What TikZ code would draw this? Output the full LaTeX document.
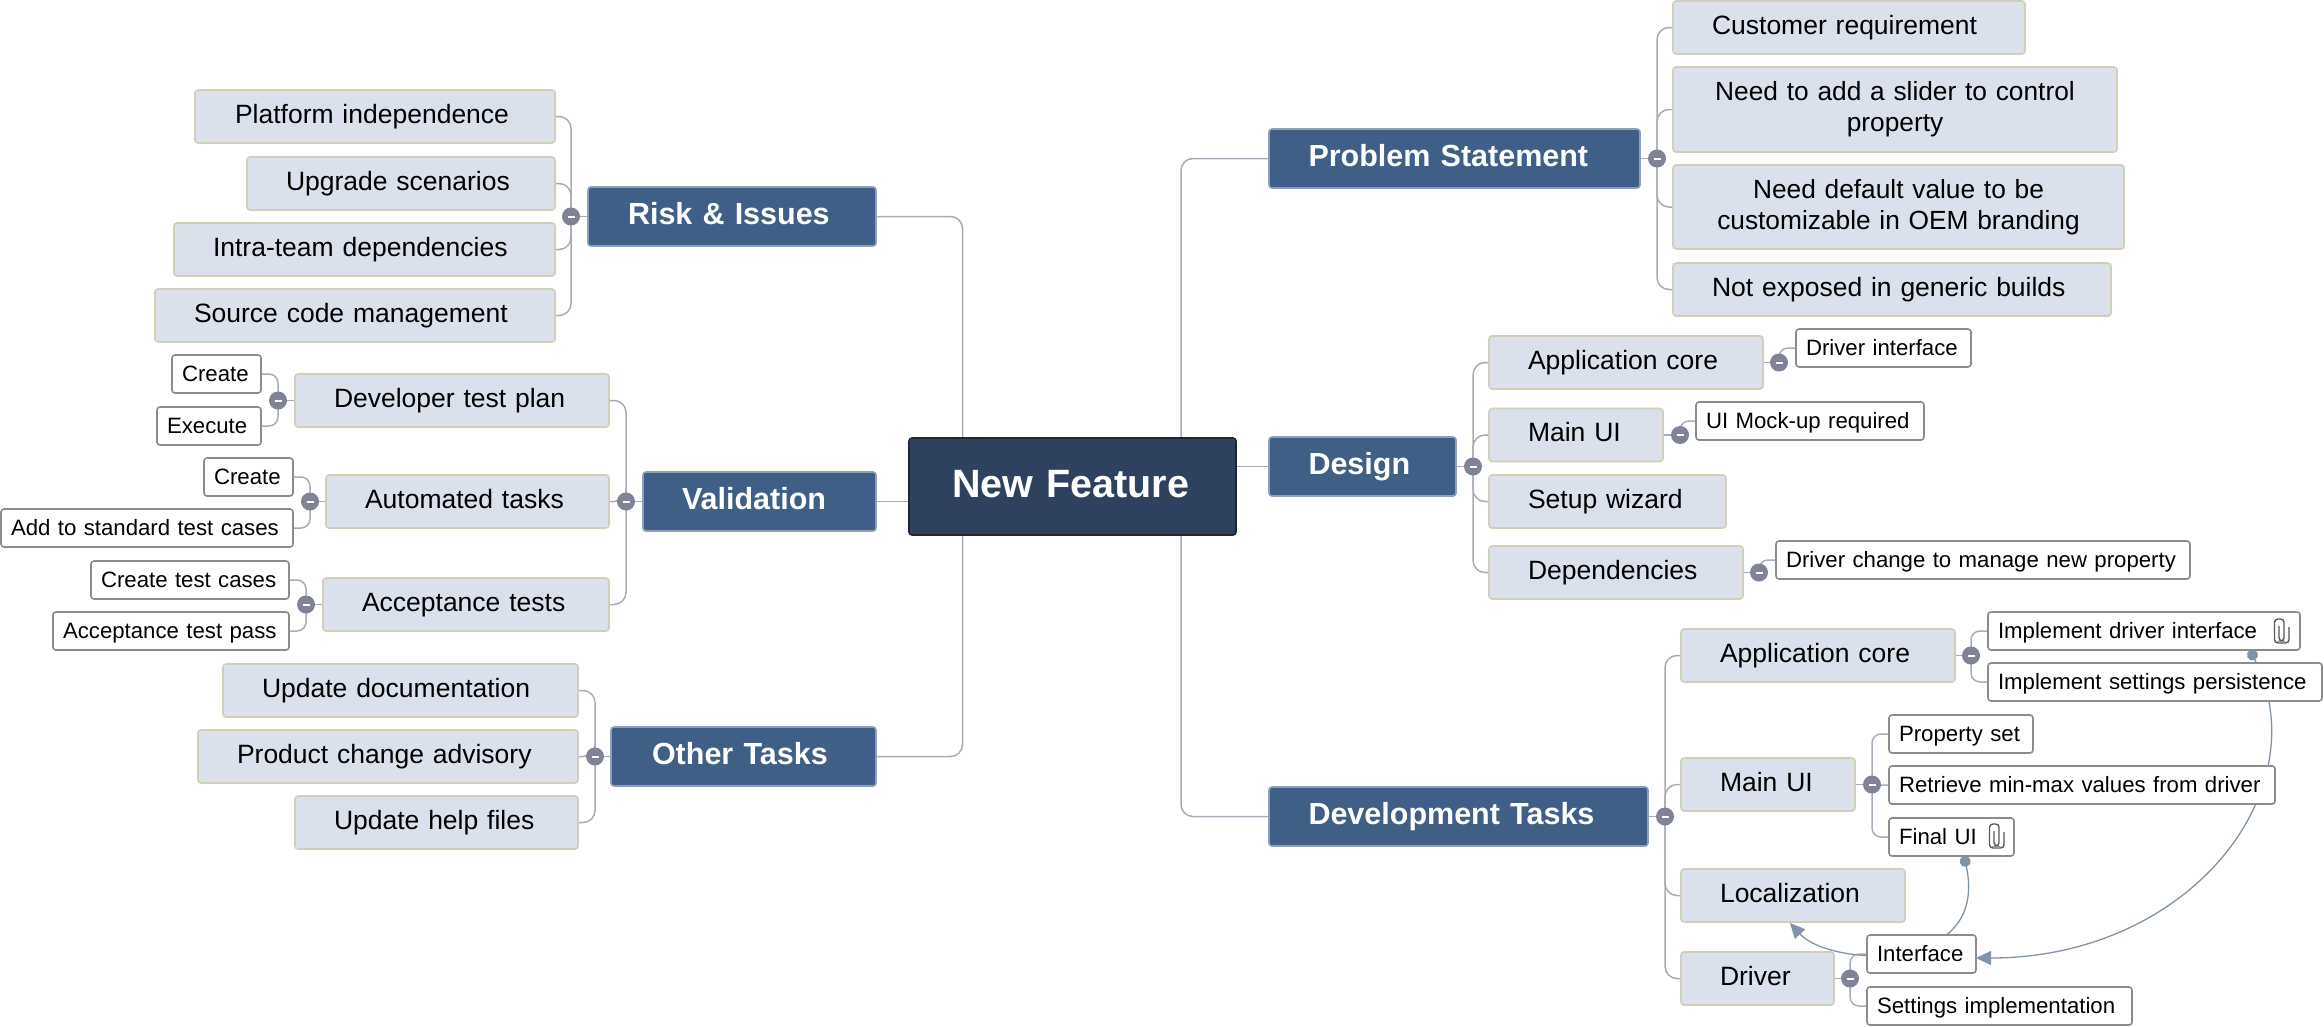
\documentclass[tikz,border=0pt]{standalone}
\usepackage{fontspec}
\setmainfont{Liberation Sans}
\usetikzlibrary{backgrounds,arrows.meta}
\definecolor{subfill}{HTML}{DAE1EC}
\definecolor{subedge}{HTML}{D2CFB9}
\definecolor{headfill}{HTML}{3F5F87}
\definecolor{headedge}{HTML}{8FA0B8}
\definecolor{rootfill}{HTML}{2E4260}
\definecolor{rootedge}{HTML}{23262C}
\definecolor{noteedge}{HTML}{8C8C8C}
\definecolor{connc}{HTML}{A6ADB8}
\definecolor{knob}{HTML}{7F8395}
\definecolor{relc}{HTML}{8193A6}
\tikzset{
  boxbase/.style={anchor=north west,inner sep=0pt,outer sep=0pt,rounded corners=3pt,line width=1.6pt},
  rootbox/.style={boxbase,fill=rootfill,draw=rootedge,text=white,text height=59pt,text depth=38pt,
    font=\bfseries\fontsize{39.5}{45}\selectfont},
  headbox/.style={boxbase,fill=headfill,draw=headedge,text=white,text height=37pt,text depth=22pt,
    font=\bfseries\fontsize{30.5}{36}\selectfont},
  subbox/.style={boxbase,fill=subfill,draw=subedge,text height=33pt,text depth=20pt,
    font=\fontsize{26.5}{31}\selectfont},
  twoline/.style={boxbase,fill=subfill,draw=subedge,align=center,text height=33pt,text depth=52pt,
    font=\fontsize{26.3}{31}\selectfont},
  notebox/.style={boxbase,fill=white,draw=noteedge,text height=26pt,text depth=12pt,
    font=\fontsize{22.2}{26}\selectfont},
  knobnode/.style={circle,fill=knob,inner sep=0pt,minimum size=18pt,text=white},
  conn/.style={draw=connc,line width=1.5pt},
  elbow/.style={conn,rounded corners=12pt},
  noteelbow/.style={conn,rounded corners=9pt},
  mainelbow/.style={conn,rounded corners=12pt},
  relation/.style={draw=relc,line width=1.3pt,
    {Circle[length=11pt,fill=relc]}-{Triangle[length=15pt,width=14pt,fill=relc]}},
  clipline/.style={draw=black!65,line width=1.4pt,rounded corners=3.4pt,fill=none},
}
\newcommand{\bx}[7]{% name, style, x0, y0, x1, pad, text
  \pgfmathsetmacro{\bxw}{#5-#3}%
  \node[#2,text width=\bxw pt] (#1) at (#3,#4) {\hspace*{#6pt}#7\hfill\null};}
\newcommand{\knobat}[3]{\node[knobnode] (#1) at (#2,#3) {\rule{7pt}{2pt}};}
\newcommand{\clipat}[2]{%
  \draw[clipline] ([shift={(-2pt,5pt)}]#1,#2) -- ++(0,15) -- ++(5,0) -- ++(0,-22) -- ++(-9.5,0) -- ++(0,24) -- ++(14.5,0) -- ++(0,-16);}
\begin{document}
\begin{tikzpicture}[x=1pt,y=-1pt]
\useasboundingbox (0,0) rectangle (2324,1026);
% root and main topics
\bx{root}{rootbox}{909}{438}{1236}{43}{New Feature}
\bx{ps}{headbox}{1269}{129}{1640}{39.5}{Problem Statement}
\bx{design}{headbox}{1269}{437}{1456}{39.5}{Design}
\bx{devt}{headbox}{1269}{787}{1648}{39.5}{Development Tasks}
\bx{risk}{headbox}{588}{187}{876}{40}{Risk \& Issues}
\bx{valid}{headbox}{643}{472}{876}{39}{Validation}
\bx{other}{headbox}{611}{727}{876}{41}{Other Tasks}
% problem statement
\bx{pa}{subbox}{1673}{1}{2025}{39}{Customer requirement}
\node[twoline,text width=444pt] (pb) at (1673,67) {Need to add a slider to control\\property};
\node[twoline,text width=451pt,text depth=51pt] (pc) at (1673,165) {Need default value to be\\customizable in OEM branding};
\bx{pd}{subbox}{1673}{263}{2111}{39}{Not exposed in generic builds}
% design
\bx{da}{subbox}{1489}{336}{1763}{39}{Application core}
\bx{db}{subbox}{1489}{408.5}{1663}{39}{Main UI}
\bx{dc}{subbox}{1489}{475}{1726}{39}{Setup wizard}
\bx{dd}{subbox}{1489}{546}{1743}{39}{Dependencies}
\bx{na}{notebox}{1796}{329}{1971}{10}{Driver interface}
\bx{nb}{notebox}{1696}{402}{1924}{10}{UI Mock-up required}
\bx{nc}{notebox}{1776}{541}{2190}{10}{Driver change to manage new property}
% development tasks
\bx{ta}{subbox}{1681}{629}{1955}{39}{Application core}
\bx{tb}{subbox}{1681}{758}{1855}{39}{Main UI}
\bx{tc}{subbox}{1681}{869}{1905}{39}{Localization}
\bx{td}{subbox}{1681}{952}{1834}{39}{Driver}
\bx{ia}{notebox}{1988}{612}{2300}{10}{Implement driver interface}
\bx{ib}{notebox}{1988}{663}{2322}{10}{Implement settings persistence}
\bx{ic}{notebox}{1889}{715}{2033}{10}{Property set}
\bx{id}{notebox}{1889}{766}{2275}{10}{Retrieve min-max values from driver}
\bx{ie}{notebox}{1889}{818}{2014}{10}{Final UI}
\bx{ig}{notebox}{1867}{935}{1976}{10}{Interface}
\bx{ih}{notebox}{1867}{987}{2132}{10}{Settings implementation}
% risk
\bx{ra}{subbox}{195}{90}{555}{40}{Platform independence}
\bx{rb}{subbox}{247}{157}{555}{39}{Upgrade scenarios}
\bx{rc}{subbox}{174}{223}{555}{39}{Intra-team dependencies}
\bx{rd}{subbox}{155}{289}{555}{39}{Source code management}
% validation
\bx{va}{subbox}{295}{374}{609}{39}{Developer test plan}
\bx{vb}{subbox}{326}{475}{609}{39}{Automated tasks}
\bx{vc}{subbox}{323}{578}{609}{39}{Acceptance tests}
\bx{la}{notebox}{172}{355}{261}{10}{Create}
\bx{lb}{notebox}{157}{407}{261}{10}{Execute}
\bx{lc}{notebox}{204}{458}{293}{10}{Create}
\bx{ld}{notebox}{1}{509}{293}{10}{Add to standard test cases}
\bx{le}{notebox}{91}{561}{289}{10}{Create test cases}
\bx{lf}{notebox}{53}{612}{289}{10}{Acceptance test pass}
% other tasks
\bx{oa}{subbox}{223}{664}{578}{39}{Update documentation}
\bx{ob}{subbox}{198}{730}{578}{39}{Product change advisory}
\bx{oc}{subbox}{295}{796}{578}{39}{Update help files}
% collapse knobs
\knobat{kps}{1657}{158.5}
\knobat{kde}{1473}{466.5}
\knobat{kdv}{1665}{816.5}
\knobat{kri}{571}{216.5}
\knobat{kva}{626}{501.5}
\knobat{kot}{595}{756.5}
\knobat{kda}{1779}{362.5}
\knobat{kdb}{1680}{435}
\knobat{kdd}{1759}{572.5}
\knobat{kta}{1971}{655.5}
\knobat{ktb}{1872}{784.5}
\knobat{ktd}{1850}{978.5}
\knobat{kla}{278}{400.5}
\knobat{klb}{310}{501.5}
\knobat{klc}{306}{604.5}
% paper clips
\clipat{2281}{631}
\clipat{1996}{836}
% trunk guides
\coordinate (trR) at (1181,480);
\coordinate (trL) at (962.5,480);
\begin{scope}[on background layer]
% main connectors
\draw[mainelbow] (trR |- root.north) -- (trR |- ps.west) -- (ps.west);
\draw[mainelbow] (trR |- root.south) -- (trR |- devt.west) -- (devt.west);
\draw[conn] (root.east |- design.west) -- (design.west);
\draw[mainelbow] (trL |- root.north) -- (trL |- risk.east) -- (risk.east);
\draw[mainelbow] (trL |- root.south) -- (trL |- other.east) -- (other.east);
\draw[conn] (root.west |- valid.east) -- (valid.east);
% parent to knob
\foreach \p/\k in {ps/kps,design/kde,devt/kdv,da/kda,db/kdb,dd/kdd,ta/kta,tb/ktb,td/ktd}
  \draw[conn] (\p.east) -- (\p.east -| \k);
\foreach \p/\k in {risk/kri,valid/kva,other/kot,va/kla,vb/klb,vc/klc}
  \draw[conn] (\p.west) -- (\p.west -| \k);
% knob to children, right side
\foreach \k/\c in {kps/pa,kps/pb,kps/pc,kps/pd,kde/da,kde/db,kde/dc,kde/dd,kdv/ta,kdv/tb,kdv/tc,kdv/td}
  \draw[elbow] (\k.center) -- (\k.center |- \c.west) -- (\c.west);
\foreach \k/\c in {kda/na,kdb/nb,kdd/nc,kta/ia,kta/ib,ktb/ic,ktb/id,ktb/ie,ktd/ig,ktd/ih}
  \draw[noteelbow] (\k.center) -- (\k.center |- \c.west) -- (\c.west);
% knob to children, left side
\foreach \k/\c in {kri/ra,kri/rb,kri/rc,kri/rd,kva/va,kva/vb,kva/vc,kot/oa,kot/ob,kot/oc}
  \draw[elbow] (\k.center) -- (\k.center |- \c.east) -- (\c.east);
\foreach \k/\c in {kla/la,kla/lb,klb/lc,klb/ld,klc/le,klc/lf}
  \draw[noteelbow] (\k.center) -- (\k.center |- \c.east) -- (\c.east);
% relationships
\draw[relation] ([xshift=106pt]ia.south) .. controls +(70,140) and +(214,0) .. ([yshift=-4pt]ig.east);
\draw[relation] ([xshift=12.5pt]ie.south) .. controls +(26,119) and +(40,44) .. ([xshift=-3pt,yshift=-1pt]tc.south);
\end{scope}
\end{tikzpicture}
\end{document}
